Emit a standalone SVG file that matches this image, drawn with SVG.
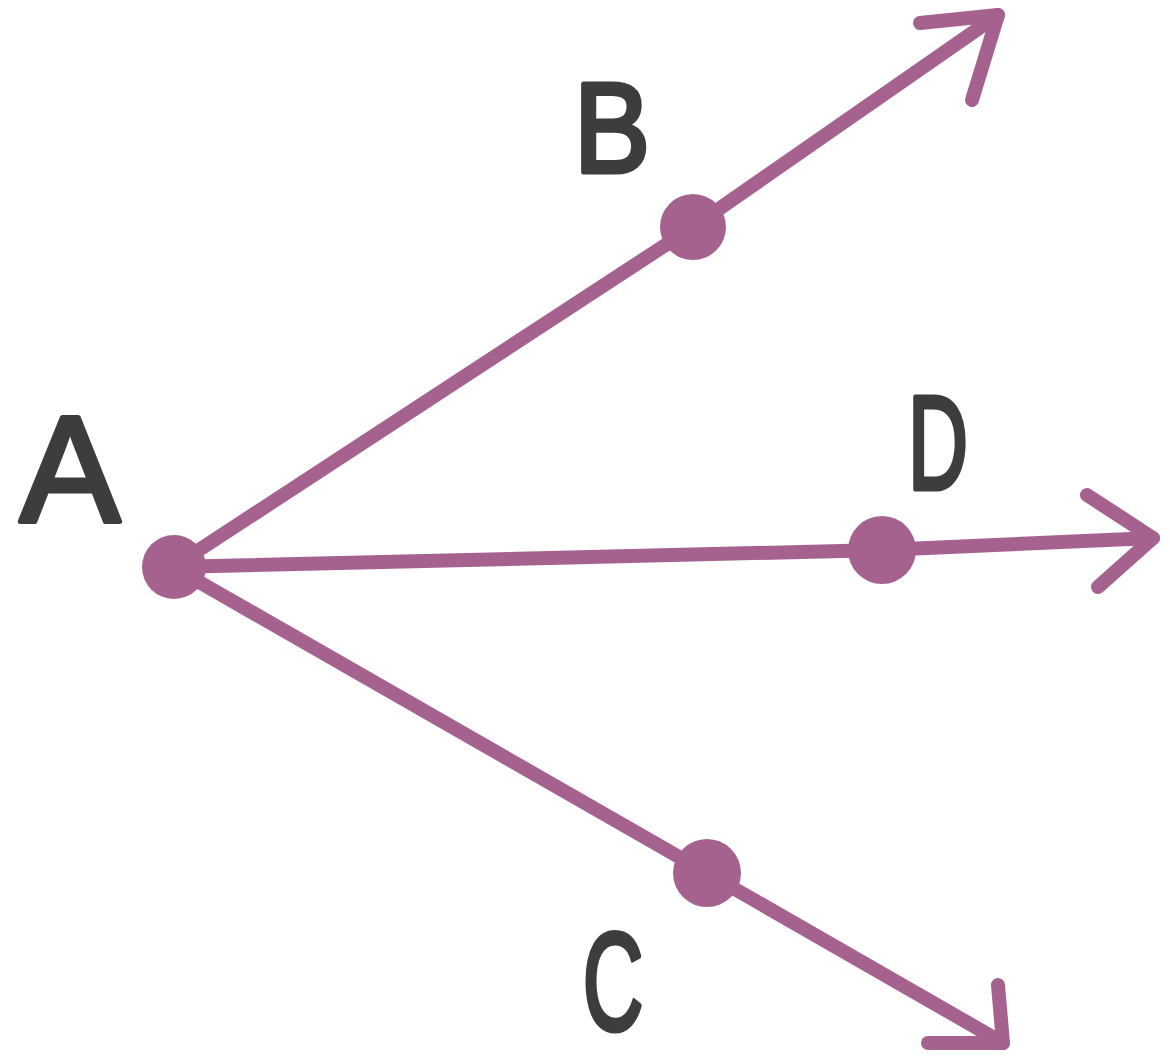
<svg xmlns="http://www.w3.org/2000/svg" width="1170" height="1057" viewBox="0 0 1170 1057">
<style>
.ray{fill:none;stroke:#a6628f;stroke-width:14;stroke-linecap:round;stroke-linejoin:round}
.dot{fill:#a6628f}
.lbl{font-family:"Liberation Sans",Arial,sans-serif;fill:#3d3d3d;stroke:#3d3d3d;stroke-width:5;stroke-linejoin:round;text-anchor:middle}
</style>
<rect width="1170" height="1057" fill="#ffffff"/>
<g id="connectors">
<polyline class="ray" points="173,567 693,227 998,15"/>
<polyline class="ray" points="920,23 998,15 972,100"/>
<polyline class="ray" points="173,567 882,550 1153,538"/>
<polyline class="ray" points="1087,495 1153,538 1098,587"/>
<polyline class="ray" points="173,567 707,873 1003,1043"/>
<polyline class="ray" points="998,985 1003,1043 928,1043"/>
</g>
<g id="node-A">
<circle class="dot" cx="174" cy="567" r="32"/>
<text class="lbl" x="70" y="521" font-size="150" textLength="100" lengthAdjust="spacingAndGlyphs">A</text>
</g>
<g id="node-B">
<circle class="dot" cx="693" cy="227" r="33"/>
<text class="lbl" x="612" y="172" font-size="128" textLength="76" lengthAdjust="spacingAndGlyphs">B</text>
</g>
<g id="node-D">
<circle class="dot" cx="882" cy="550" r="34"/>
<text class="lbl" x="938" y="489" font-size="133" textLength="60" lengthAdjust="spacingAndGlyphs">D</text>
</g>
<g id="node-C">
<circle class="dot" cx="707" cy="873" r="34"/>
<text class="lbl" transform="translate(613,1030) scale(0.6,1)" x="0" y="0" font-size="140">C</text>
</g>
</svg>
